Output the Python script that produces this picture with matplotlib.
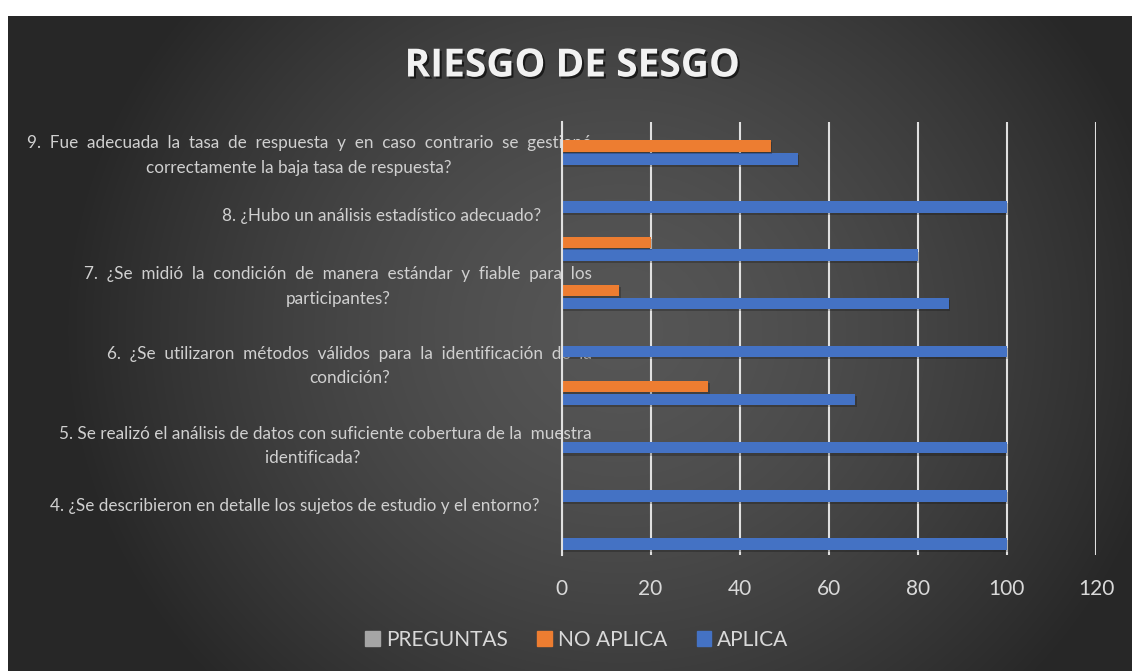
import numpy as np
import matplotlib
matplotlib.use("Agg")
import matplotlib.pyplot as plt
import matplotlib.patheffects as pe
from matplotlib.patches import Patch

# data (category 1 at the bottom)
categorias = [1, 2, 3, 4, 5, 6, 7, 8, 9]
aplica = [100, 100, 100, 66, 100, 87, 80, 100, 53]
no_aplica = [0, 0, 0, 33, 0, 13, 20, 0, 47]
preguntas = [0, 0, 0, 0, 0, 0, 0, 0, 0]

xticks = [0, 20, 40, 60, 80, 100, 120]


def spread(s, n):
    # imitate the justified first line of the Excel labels
    return (" " * n).join(s.split(" "))


etiquetas = [
    "4. ¿Se describieron en detalle los sujetos de estudio y el entorno?",
    "5. Se realizó el análisis de datos con suficiente cobertura de la  muestra\nidentificada?      ",
    spread("6. ¿Se utilizaron métodos válidos para la identificación de la", 2) + "\ncondición?",
    spread("7. ¿Se midió la condición de manera estándar y fiable para los", 2) + "\nparticipantes?",
    "8. ¿Hubo un análisis estadístico adecuado?",
    spread("9. Fue adecuada la tasa de respuesta y en caso contrario se gestionó", 2)
    + "\ncorrectamente la baja tasa de respuesta?     ",
]
# where the labels sit on the category axis, and how far from the axis they end (pt)
pos_etiquetas = [1.54, 2.89, 4.55, 6.20, 7.57, 8.92]
pad_etiquetas = [16, -22, -22, -22, 15, -22]

AZUL = "#4472C4"
NARANJA = "#ED7D31"
GRIS = "#A5A5A5"
TEXTO = "#D9D9D9"
FUENTE = ["Lato", "DejaVu Sans"]

W, H = 1132, 671
fig = plt.figure(figsize=(W / 100, H / 100), dpi=100, facecolor="white")

# chart area with radial gradient background
bg = fig.add_axes([8 / W, 0, 1 - 8 / W, 1 - 16 / H])
bg.set_axis_off()
yy, xx = np.mgrid[16:H, 8:W]
r = np.sqrt(((xx - 620) / 560.0) ** 2 + ((yy - 330) / 520.0) ** 2)
v = (0x56 - (0x56 - 0x27) * np.clip(r, 0, 1) ** 1.5) / 255.0
bg.imshow(np.dstack([v, v, v]), aspect="auto", interpolation="bilinear")

ax = fig.add_axes([561.5 / W, 1 - 555 / H, (1096 - 561.5) / W, (555 - 122) / H])
ax.set_facecolor("none")
ax.set_axisbelow(True)

y = np.array(categorias, dtype=float)
h = 0.24
off = 0.27
sombra = [pe.SimplePatchShadow(offset=(1, -1.5), shadow_rgbFace="black", alpha=0.22), pe.Normal()]
ax.barh(y - off, aplica, height=h, color=AZUL, path_effects=sombra, zorder=3)
ax.barh(y, no_aplica, height=h, color=NARANJA, path_effects=sombra, zorder=3)
ax.barh(y + off, preguntas, height=h, color=GRIS, zorder=3)

ax.set_xlim(0, 120)
ax.set_ylim(0.5, 9.5)
ax.set_xticks(xticks)
ax.xaxis.grid(True, color="#E0E0E0", linewidth=1.5)
ax.tick_params(axis="x", length=0, pad=17, labelsize=15, labelcolor=TEXTO)
for t in ax.get_xticklabels():
    t.set_family(FUENTE)

ax.set_yticks(pos_etiquetas)
ax.set_yticklabels(etiquetas, fontsize=12.3, color="#D0D0D0", family=FUENTE,
                   multialignment="center", linespacing=1.65)
ax.tick_params(axis="y", length=0)
for tick, p in zip(ax.yaxis.get_major_ticks(), pad_etiquetas):
    tick.set_pad(p)

for s in ["top", "right", "bottom"]:
    ax.spines[s].set_visible(False)
ax.spines["left"].set_color("#E0E0E0")
ax.spines["left"].set_linewidth(1.5)
ax.spines["left"].set_zorder(4)

fig.text(572 / W, 1 - 66 / H, "RIESGO DE SESGO", ha="center", va="center",
         fontsize=28, fontweight="bold", color="#F2F2F2", family=["Open Sans", "DejaVu Sans"],
         path_effects=[pe.SimplePatchShadow(offset=(1.5, -1.5), shadow_rgbFace="black", alpha=0.6),
                       pe.Normal()])

handles = [Patch(color=GRIS), Patch(color=NARANJA), Patch(color=AZUL)]
leg = fig.legend(handles, ["PREGUNTAS", "NO APLICA", "APLICA"], loc="center",
                 bbox_to_anchor=(577 / W, 1 - 640 / H), ncol=3, frameon=False,
                 prop={"family": FUENTE, "size": 15}, labelcolor=TEXTO,
                 handlelength=0.7, handleheight=0.7, handletextpad=0.3, columnspacing=1.4)

fig.savefig("out.png", dpi=100, facecolor="white")
